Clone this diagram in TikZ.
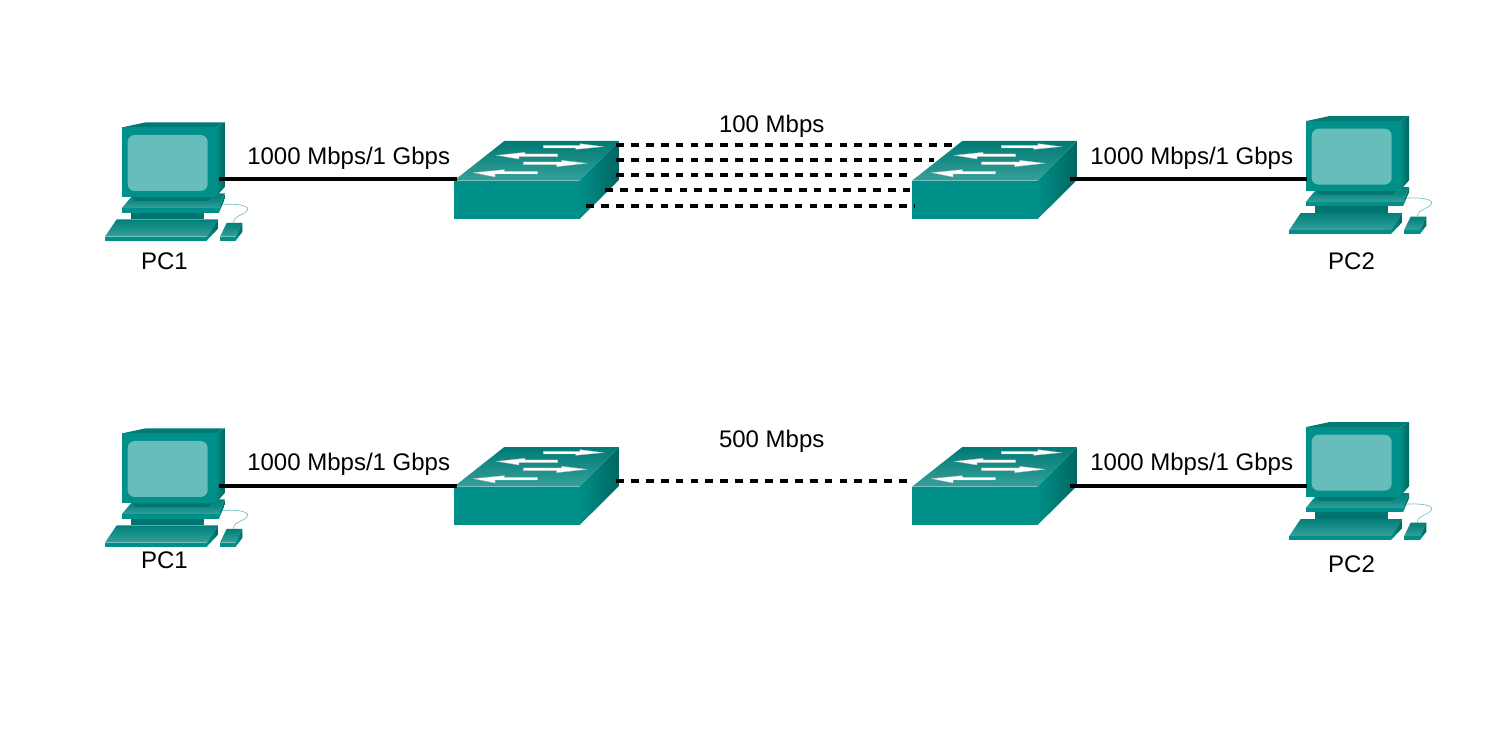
\documentclass[tikz,border=0pt]{standalone}
\usepackage{fontspec}
\setmainfont{Liberation Sans}
\definecolor{tealfront}{HTML}{008F89}
\definecolor{tealdark}{HTML}{00807A}
\definecolor{tealdeep}{HTML}{00665F}
\definecolor{tealback}{HTML}{007A74}
\definecolor{teallight}{HTML}{36A09A}
\definecolor{tealscreen}{HTML}{66BDB9}
\definecolor{tealneck}{HTML}{00756F}
\tikzset{
  x=1pt,y=-1pt,
  solidlink/.style={line width=4pt,black},
  dashlink/.style={line width=4pt,black,dash pattern=on 7.8pt off 7.1pt},
  lbl/.style={font=\fontsize{24}{28}\selectfont,inner sep=0pt,text=black},
  arrowwhite/.style={fill=white,draw=gray!50,line width=0.3pt},
  pics/pcicon/.style={code={
    \begin{scope}[x=0.3333pt,y=-0.3333pt]
      % cable
      \draw[tealscreen,line width=0.6pt] (372,284) .. controls (420,280) and (460,285) .. (458,298) .. controls (455,315) and (415,315) .. (415,338);
      % base plate
      \shade[top color=tealdark,bottom color=teallight,middle color=tealdark!70!teallight] (80,295) -- (118,250) -- (390,250) -- (372,295) -- cycle;
      \fill[tealfront] (80,295) rectangle (372,308);
      \shade[left color=tealfront,right color=tealdeep] (372,295) -- (390,250) -- (390,266) -- (372,308) -- cycle;
      \fill[tealneck] (107,308) rectangle (328,328);
      \fill[tealneck] (112,262) -- (350,262) -- (340,273) -- (122,273) -- cycle;
      % monitor
      \fill[tealback] (82,52) -- (152,37) -- (390,37) -- (362,52) -- cycle;
      \shade[left color=tealfront,right color=tealdeep] (362,52) -- (390,37) -- (390,230) -- (362,262) -- cycle;
      \fill[tealfront] (82,52) rectangle (362,262);
      \fill[tealscreen,rounded corners=7pt] (98,75) rectangle (338,243);
      % keyboard
      \shade[top color=tealdark,bottom color=teallight] (30,380) -- (65,328) -- (370,328) -- (335,380) -- cycle;
      \fill[tealfront] (30,380) rectangle (335,392);
      \shade[left color=tealfront,right color=tealdeep] (335,380) -- (370,328) -- (370,355) -- (335,392) -- cycle;
      % mouse
      \shade[top color=tealdark,bottom color=teallight] (375,380) -- (395,339) -- (442,339) -- (422,380) -- cycle;
      \fill[tealfront] (375,380) rectangle (422,392);
      \shade[left color=tealfront,right color=tealdeep] (422,380) -- (442,339) -- (442,366) -- (422,392) -- cycle;
    \end{scope}
  }},
  pics/swicon/.style={code={
    \begin{scope}[x=0.3333pt,y=-0.3333pt]
      \fill[tealfront] (27,152) rectangle (403,268);
      \shade[left color=tealfront,right color=tealdeep] (403,152) -- (522,33) -- (522,150) -- (403,268) -- cycle;
      \shade[top color=tealback,bottom color=teallight] (27,152) -- (178,33) -- (522,33) -- (403,152) -- cycle;
      \draw[arrowwhite] (295,46) -- (405,46) -- (405,41) -- (475,50) -- (392,58) -- (392,54) -- (295,54) -- cycle;
      \draw[arrowwhite] (338,72) -- (240,72) -- (240,67) -- (155,76) -- (222,87) -- (222,80) -- (338,80) -- cycle;
      \draw[arrowwhite] (235,96) -- (350,96) -- (350,91) -- (425,100) -- (335,110) -- (335,104) -- (235,104) -- cycle;
      \draw[arrowwhite] (278,124) -- (178,124) -- (178,119) -- (85,128) -- (150,141) -- (150,132) -- (278,132) -- cycle;
    \end{scope}
  }}
}
\begin{document}
\begin{tikzpicture}
\useasboundingbox (0,0) rectangle (1507,743);
\fill[white] (0,0) rectangle (1507,743);

% --- top row
\pic at (95,110) {pcicon};
\pic at (1279,103.7) {pcicon};
\pic at (445,130) {swicon};
\pic at (903,130) {swicon};
\coordinate (pcA) at (219,179.5);
\coordinate (swAl) at (457,179.5);
\coordinate (swBr) at (1069.5,179.5);
\coordinate (pcB) at (1307,179.5);
\foreach \yy/\xa/\xb in {145/616/951.5, 160/616/934, 175/616/907, 190/605/910, 206/586/915}{
  \coordinate (la) at (\xa,\yy);
  \coordinate (lb) at (\xb,\yy);
  \draw[dashlink] (la) -- (lb);
}
\draw[solidlink] (pcA) -- (swAl);
\draw[solidlink] (swBr) -- (pcB);

% --- bottom row
\pic at (95,416) {pcicon};
\pic at (1279,409.7) {pcicon};
\pic at (445,436) {swicon};
\pic at (903,436) {swicon};
\coordinate (pcC) at (219,485.5);
\coordinate (swCl) at (457,485.5);
\coordinate (swCr) at (616,481);
\coordinate (swDl) at (907,481);
\coordinate (swDr) at (1069.5,485.5);
\coordinate (pcD) at (1307,485.5);
\draw[dashlink] (swCr) -- (swDl);
\draw[solidlink] (pcC) -- (swCl);
\draw[solidlink] (swDr) -- (pcD);

% --- labels
\node[lbl] (t1) at (348.7,158) {1000 Mbps/1 Gbps};
\node[lbl] (t2) at (1191.7,158) {1000 Mbps/1 Gbps};
\node[lbl] (t3) at (771.7,126) {100 Mbps};
\node[lbl] (t4) at (348.7,464) {1000 Mbps/1 Gbps};
\node[lbl] (t5) at (1191.7,464) {1000 Mbps/1 Gbps};
\node[lbl] (t6) at (771.7,441) {500 Mbps};
\node[lbl] (t7) at (164.5,261) {PC1};
\node[lbl] (t8) at (1351.5,261) {PC2};
\node[lbl] (t9) at (164.5,560) {PC1};
\node[lbl] (t10) at (1351.5,564) {PC2};
\end{tikzpicture}
\end{document}
